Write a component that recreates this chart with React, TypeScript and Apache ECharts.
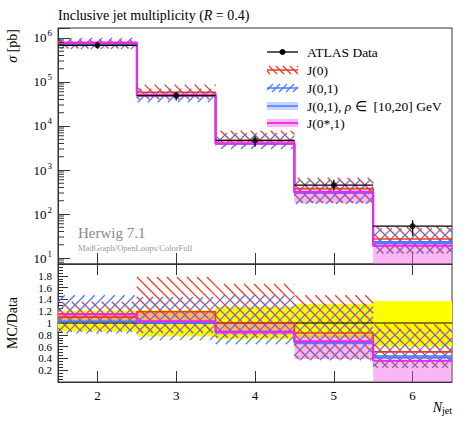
import React, { useEffect, useRef } from 'react';
import * as echarts from 'echarts';

// ---------- data ----------
const binEdges = [1.5, 2.5, 3.5, 4.5, 5.5, 6.5];
const binCentres = [2, 3, 4, 5, 6];
const atlasData = [6.8e5, 4.9e4, 4.7e3, 4.55e2, 53];
const atlasRelLo = [0.86, 0.77, 0.73, 0.75, 0.6];
const atlasRelHi = [1.21, 1.22, 1.27, 1.32, 1.37];

// MC / Data ratios
const j0Ratio = [1.1, 1.19, 1.0, 0.83, 0.51];
const j0RatioLo = [0.85, 0.83, 0.75, 0.39, 0.24];
const j0RatioHi = [1.36, 1.78, 1.66, 1.47, 0.98];

const j01Ratio = [1.02, 1.0, 0.84, 0.67, 0.44];
const j01RatioLo = [0.82, 0.71, 0.64, 0.37, 0.24];
const j01RatioHi = [1.47, 1.44, 1.47, 1.32, 0.9];

const j01RhoRatio = [1.03, 1.01, 0.85, 0.66, 0.41];
const j01RhoLo = [1.0, 0.98, 0.82, 0.63, 0.39];
const j01RhoHi = [1.06, 1.04, 0.88, 0.69, 0.45];

const j0s1Ratio = [1.15, 1.03, 0.85, 0.69, 0.36];
const j0s1Lo = [1.03, 1.0, 0.8, 0.39, 0.005];
const j0s1Hi = [1.16, 1.2, 1.0, 0.8, 0.37];

const xTickValues = [2, 3, 4, 5, 6];
const mainMinorMultipliers = [2, 3, 4, 5, 6, 7, 8, 9];

// ---------- style ----------
const FONT = 'Liberation Serif';
const RED = '#ee3b22';
const BLUE = '#4a78ff';
const MAGENTA = '#f025ee';
const PINK = 'rgba(245, 95, 232, 0.45)';
const LIGHTBLUE = 'rgba(110, 150, 255, 0.35)';
const YELLOW = '#ffff00';
const AXIS = '#333';

const Y_MIN = Math.pow(10, 0.864);
const Y_MAX = Math.pow(10, 6.227);

function steps(vals: number[]) {
  const pts: number[][] = [];
  vals.forEach((v, i) => {
    pts.push([binEdges[i], v]);
    pts.push([binEdges[i + 1], v]);
  });
  return pts;
}
const mul = (a: number[], b: number[]) => a.map((v, i) => v * b[i]);

function hatchLines(X0: number, Y0: number, X1: number, Y1: number, dir: 'slash' | 'back', color: string, step: number, lw: number) {
  const out: any[] = [];
  if (dir === 'slash') {
    const cStart = Math.ceil((X0 + Y0) / step) * step;
    for (let c = cStart; c <= X1 + Y1; c += step) {
      const xs = Math.max(X0, c - Y1);
      const xe = Math.min(X1, c - Y0);
      if (xe > xs) out.push({ type: 'line', shape: { x1: xs, y1: c - xs, x2: xe, y2: c - xe }, style: { stroke: color, lineWidth: lw } });
    }
  } else {
    const cStart = Math.ceil((Y0 - X1) / step) * step;
    for (let c = cStart; c <= Y1 - X0; c += step) {
      const xs = Math.max(X0, Y0 - c);
      const xe = Math.min(X1, Y1 - c);
      if (xe > xs) out.push({ type: 'line', shape: { x1: xs, y1: xs + c, x2: xe, y2: xe + c }, style: { stroke: color, lineWidth: lw } });
    }
  }
  return out;
}

function binData(lo: number[], hi: number[]) {
  return binCentres.map((_, i) => [binEdges[i], binEdges[i + 1], lo[i], hi[i]]);
}

function bandSeries(xi: number, yi: number, lo: number[], hi: number[], fill: string, z: number) {
  return {
    type: 'custom', xAxisIndex: xi, yAxisIndex: yi, clip: true, z, silent: true,
    data: binData(lo, hi),
    encode: { x: [0, 1], y: [2, 3] },
    renderItem: (_p: any, api: any) => {
      const a = api.coord([api.value(0), api.value(3)]);
      const b = api.coord([api.value(1), api.value(2)]);
      return { type: 'rect', shape: { x: a[0], y: a[1], width: b[0] - a[0], height: b[1] - a[1] }, style: { fill } };
    },
  };
}

function hatchSeries(xi: number, yi: number, lo: number[], hi: number[], dir: 'slash' | 'back', color: string, z: number) {
  return {
    type: 'custom', xAxisIndex: xi, yAxisIndex: yi, clip: true, z, silent: true,
    data: binData(lo, hi),
    encode: { x: [0, 1], y: [2, 3] },
    renderItem: (_p: any, api: any) => {
      const a = api.coord([api.value(0), api.value(3)]);
      const b = api.coord([api.value(1), api.value(2)]);
      return { type: 'group', children: hatchLines(a[0], a[1], b[0], b[1], dir, color, 10, 1.3) };
    },
  };
}

function stepSeries(xi: number, yi: number, vals: number[], color: string, width: number, z: number) {
  return {
    type: 'line', xAxisIndex: xi, yAxisIndex: yi, z, silent: true,
    data: steps(vals), showSymbol: false, symbol: 'none',
    lineStyle: { color, width }, clip: true,
  };
}

function dataLineSeries(xi: number, yi: number, vals: number[], z: number) {
  return {
    type: 'custom', xAxisIndex: xi, yAxisIndex: yi, clip: true, z, silent: true,
    data: binCentres.map((_, i) => [binEdges[i], binEdges[i + 1], vals[i]]),
    encode: { x: [0, 1], y: 2 },
    renderItem: (_p: any, api: any) => {
      const a = api.coord([api.value(0), api.value(2)]);
      const b = api.coord([api.value(1), api.value(2)]);
      return { type: 'line', shape: { x1: a[0], y1: a[1], x2: b[0], y2: b[1] }, style: { stroke: '#000', lineWidth: 1.2 } };
    },
  };
}

function panelSeries(xi: number, yi: number, scale: number[], isMain: boolean) {
  const s = (r: number[]) => mul(r, scale);
  const list: any[] = [];
  if (!isMain) list.push(bandSeries(xi, yi, atlasRelLo, atlasRelHi, YELLOW, 1));
  list.push(bandSeries(xi, yi, s(j0s1Lo), s(j0s1Hi), PINK, 2));
  list.push(bandSeries(xi, yi, s(j01RhoLo), s(j01RhoHi), LIGHTBLUE, 2));
  list.push(hatchSeries(xi, yi, s(j0RatioLo), s(j0RatioHi), 'back', RED, 3));
  list.push(hatchSeries(xi, yi, s(j01RatioLo), s(j01RatioHi), 'slash', BLUE, 3));
  if (!isMain) list.push(dataLineSeries(xi, yi, s([1, 1, 1, 1, 1]), 4));
  list.push(stepSeries(xi, yi, s(j0Ratio), RED, 1.6, 5));
  list.push(stepSeries(xi, yi, s(j01Ratio), BLUE, 1.6, 5));
  list.push(stepSeries(xi, yi, s(j01RhoRatio), BLUE, 1.4, 5));
  list.push(stepSeries(xi, yi, s(j0s1Ratio), MAGENTA, 2.2, 6));
  if (isMain) {
    list.push(dataLineSeries(xi, yi, atlasData, 7));
    list.push({
      type: 'custom', xAxisIndex: xi, yAxisIndex: yi, clip: true, z: 7, silent: true,
      data: binCentres.map((c, i) => [c, atlasData[i] * atlasRelLo[i], atlasData[i] * atlasRelHi[i]]),
      encode: { x: 0, y: [1, 2] },
      renderItem: (_p: any, api: any) => {
        const a = api.coord([api.value(0), api.value(2)]);
        const b = api.coord([api.value(0), api.value(1)]);
        return { type: 'line', shape: { x1: a[0], y1: a[1], x2: b[0], y2: b[1] }, style: { stroke: '#000', lineWidth: 1.3 } };
      },
    });
    list.push({
      type: 'scatter', xAxisIndex: xi, yAxisIndex: yi, z: 8, silent: true,
      data: binCentres.map((c, i) => [c, atlasData[i]]),
      symbol: 'circle', symbolSize: 6, itemStyle: { color: '#000' },
    });
    // log minor ticks on the left axis
    const minors: number[] = [];
    for (let k = 0; k <= 6; k++) mainMinorMultipliers.forEach((m) => {
      const v = m * Math.pow(10, k);
      if (v > Y_MIN && v < Y_MAX) minors.push(v);
    });
    list.push({
      type: 'custom', xAxisIndex: xi, yAxisIndex: yi, clip: false, z: 9, silent: true,
      data: minors.map((v) => [binEdges[0], v]),
      encode: { x: 0, y: 1 },
      renderItem: (_p: any, api: any) => {
        const p = api.coord([api.value(0), api.value(1)]);
        return { type: 'line', shape: { x1: p[0], y1: p[1], x2: p[0] + 6, y2: p[1] }, style: { stroke: AXIS, lineWidth: 1 } };
      },
    });
  }
  return list;
}

function legendGraphics() {
  const x0 = 267, x1 = 298, tx = 307;
  const rows = [52, 70, 88, 106, 123];
  const g: any[] = [];
  g.push({ type: 'line', shape: { x1: x0, y1: rows[0], x2: x1, y2: rows[0] }, style: { stroke: '#000', lineWidth: 1.3 } });
  g.push({ type: 'circle', shape: { cx: (x0 + x1) / 2, cy: rows[0], r: 3 }, style: { fill: '#000' } });
  hatchLines(x0, rows[1] - 4, x1, rows[1] + 4, 'back', RED, 7, 1.2).forEach((l) => g.push(l));
  g.push({ type: 'line', shape: { x1: x0, y1: rows[1], x2: x1, y2: rows[1] }, style: { stroke: RED, lineWidth: 1.5 } });
  hatchLines(x0, rows[2] - 4, x1, rows[2] + 4, 'slash', BLUE, 7, 1.2).forEach((l) => g.push(l));
  g.push({ type: 'line', shape: { x1: x0, y1: rows[2], x2: x1, y2: rows[2] }, style: { stroke: BLUE, lineWidth: 1.5 } });
  g.push({ type: 'rect', shape: { x: x0, y: rows[3] - 4, width: x1 - x0, height: 8 }, style: { fill: 'rgba(110,150,255,0.4)' } });
  g.push({ type: 'line', shape: { x1: x0, y1: rows[3], x2: x1, y2: rows[3] }, style: { stroke: BLUE, lineWidth: 1.5 } });
  g.push({ type: 'rect', shape: { x: x0, y: rows[4] - 4, width: x1 - x0, height: 8 }, style: { fill: 'rgba(245,95,232,0.45)' } });
  g.push({ type: 'line', shape: { x1: x0, y1: rows[4], x2: x1, y2: rows[4] }, style: { stroke: MAGENTA, lineWidth: 1.8 } });
  const texts = [
    'ATLAS Data',
    'J(0)',
    'J(0,1)',
    'J(0,1), {i|ρ} ∈  [10,20] GeV',
    'J(0*,1)',
  ];
  texts.forEach((t, i) => {
    g.push({
      type: 'text', x: tx, y: rows[i],
      style: {
        text: t, font: `13.5px "${FONT}"`, fill: '#000', verticalAlign: 'middle', align: 'left',
        rich: { i: { fontStyle: 'italic', fontFamily: FONT, fontSize: 13.5 } },
      },
    });
  });
  return g;
}

export default function App() {
  const ref = useRef<HTMLDivElement>(null);
  useEffect(() => {
    if (!ref.current) return;
    const chart = echarts.init(ref.current, undefined, { renderer: 'svg' });
    const ones = [1, 1, 1, 1, 1];
    const option: any = {
      animation: false,
      backgroundColor: '#fff',
      grid: [
        { left: 58, top: 28, width: 394, height: 236, show: true, borderColor: AXIS, borderWidth: 1, backgroundColor: 'transparent', containLabel: false },
        { left: 58, top: 264, width: 394, height: 118, show: true, borderColor: AXIS, borderWidth: 1, backgroundColor: 'transparent', containLabel: false },
      ],
      xAxis: [
        {
          gridIndex: 0, type: 'value', min: 1.5, max: 6.5, position: 'bottom',
          axisLine: { show: true, lineStyle: { color: AXIS } },
          axisTick: { show: true, inside: true, length: 11, customValues: xTickValues, lineStyle: { color: AXIS } },
          axisLabel: { show: false }, splitLine: { show: false },
        },
        {
          gridIndex: 1, type: 'value', min: 1.5, max: 6.5, position: 'bottom',
          axisLine: { show: true, lineStyle: { color: AXIS } },
          axisTick: { show: true, inside: true, length: 11, customValues: xTickValues, lineStyle: { color: AXIS } },
          axisLabel: { show: true, customValues: xTickValues, margin: 7, fontFamily: FONT, fontSize: 13, color: '#000' },
          splitLine: { show: false },
        },
        {
          gridIndex: 1, type: 'value', min: 1.5, max: 6.5, position: 'top',
          axisLine: { show: false },
          axisTick: { show: true, inside: true, length: 11, customValues: xTickValues, lineStyle: { color: AXIS } },
          axisLabel: { show: false }, splitLine: { show: false },
        },
      ],
      yAxis: [
        {
          gridIndex: 0, type: 'log', logBase: 10, min: Y_MIN, max: Y_MAX,
          axisLine: { show: true, lineStyle: { color: AXIS } },
          axisTick: { show: true, inside: true, length: 12, lineStyle: { color: AXIS } },
          axisLabel: {
            margin: 6, color: '#000',
            formatter: (v: number) => {
              const e = Math.round(Math.log10(v));
              if (Math.abs(Math.log10(v) - e) > 0.01) return '';
              return `{b|10}{s|${e}}`;
            },
            rich: {
              b: { fontFamily: FONT, fontSize: 13, color: '#000' },
              s: { fontFamily: FONT, fontSize: 9, color: '#000', padding: [0, 0, 9, 1] },
            },
          },
          splitLine: { show: false },
        },
        {
          gridIndex: 1, type: 'value', min: 0, max: 2, interval: 0.2,
          axisLine: { show: true, lineStyle: { color: AXIS } },
          axisTick: { show: true, inside: true, length: 10, lineStyle: { color: AXIS } },
          minorTick: { show: true, splitNumber: 4, length: 5, lineStyle: { color: AXIS } },
          axisLabel: {
            margin: 6, fontFamily: FONT, fontSize: 11, lineHeight: 10, color: '#000',
            formatter: (v: number) => (v < 0.1 || v > 1.9 ? '' : Math.abs(v - 1) < 1e-6 ? '1' : v.toFixed(1)),
          },
          splitLine: { show: false },
        },
      ],
      series: [...panelSeries(0, 0, atlasData, true), ...panelSeries(1, 1, ones, false)],
      graphic: [
        {
          type: 'text', x: 58, y: 15,
          style: {
            text: 'Inclusive jet multiplicity ({i|R} = 0.4)', font: `14px "${FONT}"`, fill: '#000', verticalAlign: 'middle',
            rich: { i: { fontStyle: 'italic', fontFamily: FONT, fontSize: 14 } },
          },
        },
        {
          type: 'text', x: 12, y: 29, rotation: Math.PI / 2,
          style: {
            text: '{i|σ} [pb]', font: `14px "${FONT}"`, fill: '#000', align: 'right', verticalAlign: 'middle',
            rich: { i: { fontStyle: 'italic', fontFamily: FONT, fontSize: 14 } },
          },
        },
        {
          type: 'text', x: 12, y: 323, rotation: Math.PI / 2,
          style: { text: 'MC/Data', font: `14px "${FONT}"`, fill: '#000', align: 'center', verticalAlign: 'middle' },
        },
        {
          type: 'text', x: 452, y: 407,
          style: {
            text: '{n|N}{s|jet}', fill: '#000', align: 'right', verticalAlign: 'middle',
            rich: {
              n: { fontStyle: 'italic', fontFamily: FONT, fontSize: 14 },
              s: { fontFamily: FONT, fontSize: 10, padding: [6, 0, 0, 0] },
            },
          },
        },
        {
          type: 'text', x: 78, y: 233,
          style: { text: 'Herwig 7.1', font: `15px "${FONT}"`, fill: '#888', verticalAlign: 'middle' },
        },
        {
          type: 'text', x: 78, y: 248,
          style: { text: 'MadGraph/OpenLoops/ColorFull', font: `8.5px "${FONT}"`, fill: '#999', verticalAlign: 'middle' },
        },
        ...legendGraphics(),
      ],
    };
    chart.setOption(option);
    return () => chart.dispose();
  }, []);
  return <div ref={ref} style={{ position: 'fixed', left: 0, top: 0, width: 467, height: 422 }} />;
}
